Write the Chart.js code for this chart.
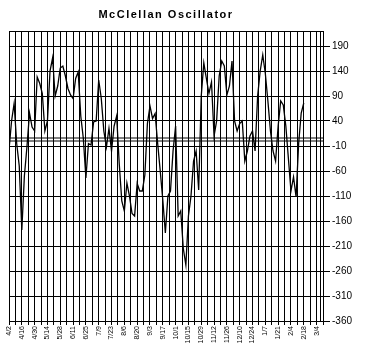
<!DOCTYPE html>
<html>
<head>
<meta charset="utf-8">
<script src="https://cdn.jsdelivr.net/npm/chart.js@4/dist/chart.umd.min.js"></script>
<style>
  html, body { margin: 0; padding: 0; background: #fff; }
  #wrap { width: 366px; height: 347px; }
</style>
</head>
<body>
<div id="wrap"><canvas id="myChart" width="366" height="347"></canvas></div>
<script>
// biweekly date labels (every 10 trading days)
const dateLabels = ['4/2','4/16','4/30','5/14','5/28','6/11','6/25','7/9','7/23','8/6','8/20','9/3','9/17',
  '10/1','10/15','10/29','11/12','11/26','12/10','12/24','1/7','1/21','2/4','2/18','3/4'];

// oscillator readings, one every 2 trading days
const oscValues = [
  -18, 40, 75, -5, -50, -178, -70, -12, 56, 28,
  20, 128, 115, 95, 20, 40, 140, 166, 90, 110,
  146, 150, 130, 105, 92, 85, 125, 138, 50, 5,
  -74, -5, -8, 38, 40, 122, 85, 20, -12, 25,
  -20, 30, 50, -45, -120, -140, -84, -110, -145, -150,
  -85, -100, -100, -68, 35, 70, 45, 55, -5, -60,
  -118, -184, -110, -100, -20, 30, -150, -140, -215, -248,
  -150, -110, -40, -20, -98, 90, 156, 125, 95, 118,
  10, 40, 130, 160, 150, 92, 110, 160, 40, 20,
  35, 40, -40, -20, 10, 20, -20, 90, 140, 172,
  135, 80, 20, -20, -40, 30, 80, 72, 30, -35,
  -100, -72, -112, -5, 56, 76
];
const dayStep = 2;

// horizontal reference lines near zero
const refLines = [6, 0];

const yTicks = [-360, -310, -260, -210, -160, -110, -60, -10, 40, 90, 140, 190];
const yMin = -360, yMax = 220;
const xMax = 245;

const points = oscValues.map((v, i) => ({ x: i * dayStep, y: v }));

const datasets = [{
  data: points,
  borderColor: '#000',
  borderWidth: 1.3,
  pointRadius: 0,
  tension: 0
}];
refLines.forEach(r => {
  datasets.push({
    data: [{ x: 0, y: r }, { x: xMax, y: r }],
    borderColor: '#000',
    borderWidth: 1,
    pointRadius: 0
  });
});

const framePlugin = {
  id: 'frame',
  afterDraw(chart) {
    const { ctx, chartArea: a } = chart;
    ctx.save();
    ctx.strokeStyle = '#000';
    ctx.lineWidth = 1;
    ctx.strokeRect(a.left + 0.5, a.top + 0.5, a.right - a.left, a.bottom - a.top);
    ctx.beginPath();
    ctx.moveTo(a.right - 2.5, a.top);
    ctx.lineTo(a.right - 2.5, a.bottom);
    ctx.stroke();
    // title
    ctx.fillStyle = '#000';
    ctx.font = 'bold 11px "Liberation Sans", Arial, sans-serif';
    ctx.letterSpacing = '1.5px';
    ctx.textAlign = 'center';
    ctx.textBaseline = 'alphabetic';
    ctx.fillText('McClellan Oscillator', (a.left + a.right) / 2, 18);
    ctx.restore();
  }
};

const ctx = document.getElementById('myChart').getContext('2d');
new Chart(ctx, {
  type: 'line',
  data: { datasets: datasets },
  options: {
    responsive: false,
    animation: false,
    layout: { padding: { left: 9, top: 31, right: 7, bottom: 0 } },
    plugins: { legend: { display: false }, tooltip: { enabled: false }, title: { display: false } },
    scales: {
      x: {
        type: 'linear',
        min: 0,
        max: xMax,
        afterBuildTicks(scale) {
          const t = [];
          for (let d = 0; d <= xMax; d += 5) t.push({ value: d });
          scale.ticks = t;
        },
        afterFit(scale) { scale.height = 26; },
        grid: { color: '#000', lineWidth: 1, tickLength: 4, drawTicks: true },
        border: { color: '#000' },
        ticks: {
          autoSkip: false,
          minRotation: 90,
          maxRotation: 90,
          padding: 1,
          color: '#000',
          font: { family: '"Liberation Sans", Arial, sans-serif', size: 7 },
          callback(value) {
            if (value % 10 !== 0) return '';
            return dateLabels[value / 10] || '';
          }
        }
      },
      y: {
        position: 'right',
        min: yMin,
        max: yMax,
        afterBuildTicks(scale) { scale.ticks = yTicks.map(v => ({ value: v })); },
        afterFit(scale) { scale.width = 36; },
        grid: { color: '#000', lineWidth: 1, tickLength: 7 },
        border: { color: '#000' },
        ticks: {
          padding: 2,
          color: '#000',
          font: { family: '"Liberation Sans", Arial, sans-serif', size: 10 }
        }
      }
    }
  },
  plugins: [framePlugin]
});
</script>
</body>
</html>
